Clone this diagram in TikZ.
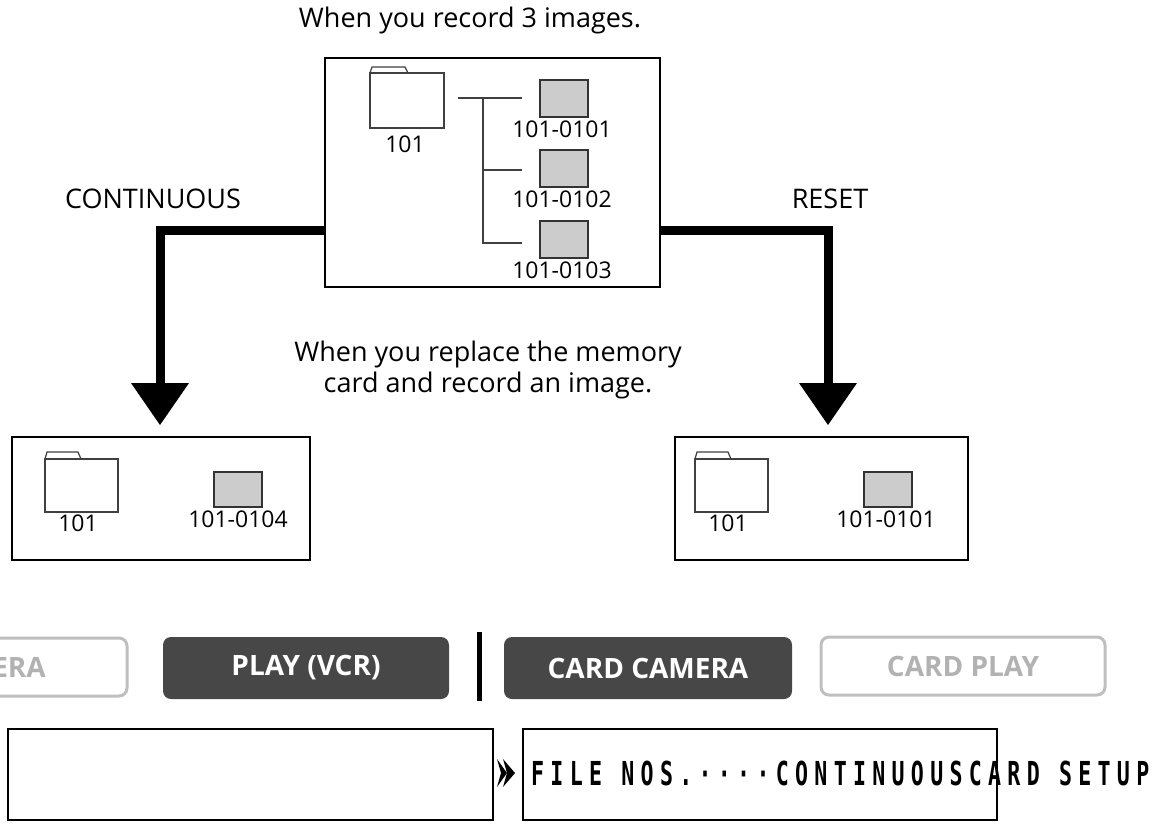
\documentclass[tikz,border=0pt]{standalone}
\usepackage{fontspec}
\setmainfont{Open Sans}
\newfontfamily\monof[FakeStretch=0.72,LetterSpace=21]{DejaVu Sans Mono}
\begin{document}
\begin{tikzpicture}[x=1pt,y=-1pt,
 box/.style={draw,line width=2.5pt},
 fold/.style={draw=black!75,line width=1.2pt,fill=white},
 file/.style={draw=black!80,line width=1.2pt,fill=black!20},
 lbl/.style={font=\fontsize{23}{25}\selectfont},
 big/.style={font=\fontsize{27}{31}\selectfont},
 thick arrow/.style={line width=9pt},
 head/.style={fill=black},
 dbtn/.style={fill=black!72,rounded corners=8pt,text=white,font=\bfseries\fontsize{28}{30}\selectfont},
 lbtn/.style={draw=black!25,line width=3pt,rounded corners=8pt,text=black!30,font=\bfseries\fontsize{28}{30}\selectfont}]
\useasboundingbox (0,0) rectangle (1160,823);
\node[big] (t1) at (470,20) {When you record 3 images.};
\draw[box] (325,58) rectangle (660,287);
\draw[fold] (370,73) -- (372,67) -- (405,67) -- (408,73);
\draw[fold] (370,73) rectangle (444,128);
\node[lbl] (f0) at (405,144) {101};
\draw[black!75,line width=1.2pt] (458,98) -- (522,98) (483,98) -- (483,243) -- (522,243) (483,170) -- (522,170);
\draw[file] (540,80) rectangle (588,117); \node[lbl] (a1) at (562,129) {101-0101};
\draw[file] (540,150) rectangle (588,187); \node[lbl] (a2) at (562,199) {101-0102};
\draw[file] (540,221) rectangle (588,258); \node[lbl] (a3) at (562,270) {101-0103};
\node[big] (cont) at (153,199) {CONTINUOUS};
\node[big] (reset) at (830,199) {RESET};
\coordinate (l0) at (325,230); \coordinate (l1) at (160,230); \coordinate (l2) at (160,385);
\coordinate (r0) at (660,230); \coordinate (r1) at (828,230); \coordinate (r2) at (828,385);
\draw[thick arrow] (l0) -- (l1) -- (l2);
\draw[thick arrow] (r0) -- (r1) -- (r2);
\fill[head] (131,383) -- (189,383) -- (160,425) -- cycle;
\fill[head] (799,383) -- (857,383) -- (828,425) -- cycle;
\node[big,align=center] (t2) at (488,370) {When you replace the memory\\card and record an image.};
\draw[box] (12,437) rectangle (310,560);
\draw[fold] (45,459) -- (47,452) -- (78,452) -- (81,459);
\draw[fold] (45,459) rectangle (118,512);
\node[lbl] (f1) at (78,523) {101};
\draw[file] (214,472) rectangle (262,507); \node[lbl] (b1) at (238,519) {101-0104};
\draw[box] (675,437) rectangle (968,560);
\draw[fold] (695,459) -- (697,452) -- (728,452) -- (731,459);
\draw[fold] (695,459) rectangle (768,512);
\node[lbl] (f2) at (728,523) {101};
\draw[file] (864,472) rectangle (912,507); \node[lbl] (c1) at (886,519) {101-0101};
\begin{scope}
\clip (0,600) rectangle (1160,720);
\node[lbtn,minimum width=286pt,minimum height=58pt] (cam) at (-16,667) {\hspace*{70pt}ERA};
\end{scope}
\node[dbtn,minimum width=286pt,minimum height=62pt] (play) at (306,668) {PLAY (VCR)};
\draw[line width=5pt] (479,632) -- (479,701);
\node[dbtn,minimum width=288pt,minimum height=62pt] (ccam) at (648,668) {CARD CAMERA};
\node[lbtn,minimum width=284pt,minimum height=58pt] (cplay) at (963,666) {CARD PLAY};
\draw[line width=1.3pt] (8,729) rectangle (493,820);
\draw[line width=1.3pt] (523,729) rectangle (997,820);
\fill (497,759) -- (507,773) -- (497,787) -- (501,773) -- cycle;
\fill (503,759) -- (515,773) -- (503,787) -- (507,773) -- cycle;
\node[anchor=west,inner sep=0,font=\monof\bfseries\fontsize{30}{32}\selectfont] (menu) at (531,773) {\scalebox{1}[1.1]{FILE NOS.····CONTINUOUSCARD SETUP}};
\end{tikzpicture}
\end{document}
